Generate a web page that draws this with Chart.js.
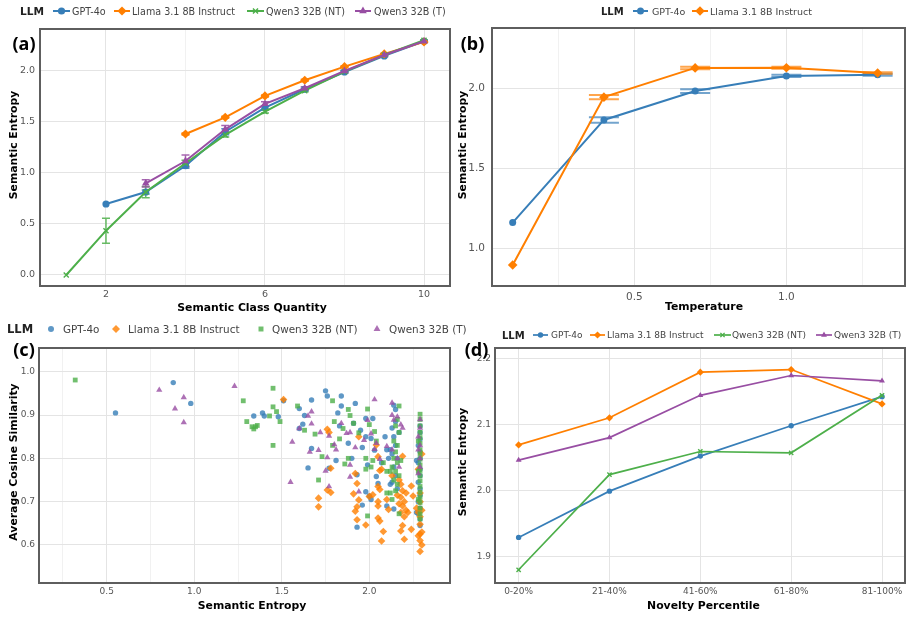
<!DOCTYPE html>
<html><head><meta charset="utf-8">
<script src="https://cdn.jsdelivr.net/npm/chart.js@4.4.0/dist/chart.umd.min.js"></script>
<style>
html,body{margin:0;padding:0;background:#fff;}
#wrap{position:relative;width:914px;height:619px;overflow:hidden;background:#fff;}
#wrap canvas{position:absolute;left:0;top:0;}
.t{position:absolute;white-space:nowrap;line-height:1;}
</style></head>
<body><div id="wrap">
<canvas id="ca" width="914" height="619"></canvas>
<canvas id="cb" width="914" height="619"></canvas>
<canvas id="cc" width="914" height="619"></canvas>
<canvas id="cd" width="914" height="619"></canvas>
</div>
<script>
// ---------------- DATA ----------------
const seriesNames = ['GPT-4o','Llama 3.1 8B Instruct','Qwen3 32B (NT)','Qwen3 32B (T)'];
const legendTitle = 'LLM';

// (a) Semantic Entropy vs Semantic Class Quantity
const classQuantity = [1,2,3,4,5,6,7,8,9,10];
const aGPT    = [null,0.694,0.811,1.068,1.400,1.635,1.815,1.984,2.141,2.284];
const aLlama  = [null,null,null,1.378,1.541,1.750,1.903,2.036,2.160,2.278];
const aQwenNT = [0.000,0.433,0.811,1.092,1.369,1.597,1.802,1.987,2.150,2.294];
const aQwenT  = [null,null,0.896,1.114,1.424,1.672,1.825,1.994,2.150,2.284];
const aErrGPT    = [0,0,0.02,0.025,0.03,0.015,0.01,0.01,0.008,0.005];
const aErrLlama  = [0,0,0,0.01,0.01,0.01,0.01,0.008,0.006,0.005];
const aErrQwenNT = [0,0.122,0.055,0.03,0.02,0.015,0.012,0.01,0.008,0.005];
const aErrQwenT  = [0,0,0.035,0.058,0.037,0.02,0.015,0.01,0.008,0.005];
const aXMajor = [2,6,10], aXMinor = [4,8];
const aYMajor = [0,0.5,1.0,1.5,2.0];

// (b) Semantic Entropy vs Temperature
const temperature = [0.1,0.4,0.7,1.0,1.3];
const bGPT   = [1.161,1.804,1.985,2.080,2.087];
const bLlama = [0.896,1.947,2.130,2.131,2.098];
const bErrGPT   = [0,0.017,0.012,0.007,0.006];
const bErrLlama = [0,0.013,0.008,0.006,0.005];
const bXMajor = [0.5,1.0], bXMinor = [0.25,0.75,1.25];
const bYMajor = [1.0,1.5,2.0];

// (c) Average Cosine Similarity vs Semantic Entropy  [entropy, similarity]
const cGPT = [[0.55,0.905],[0.88,0.975],[0.98,0.927],[1.34,0.898],[1.39,0.905],[1.40,0.898],[1.48,0.896],[1.51,0.933],[1.60,0.915],[1.60,0.869],[1.62,0.879],[1.63,0.899],[1.67,0.935],[1.65,0.778],[1.67,0.823],[1.75,0.956],[1.76,0.944],[1.77,0.777],[1.81,0.795],[1.82,0.905],[1.84,0.944],[1.84,0.921],[1.83,0.875],[1.90,0.800],[1.92,0.927],[1.91,0.881],[1.88,0.835],[1.93,0.762],[1.93,0.641],[1.96,0.692],[1.96,0.825],[1.95,0.865],[1.98,0.892],[1.98,0.850],[1.99,0.785],[1.98,0.723],[2.00,0.713],[2.01,0.705],[2.02,0.892],[2.01,0.846],[2.03,0.819],[2.04,0.758],[2.05,0.742],[2.07,0.790],[2.10,0.820],[2.09,0.850],[2.10,0.690],[2.12,0.740],[2.14,0.923],[2.15,0.913],[2.13,0.870],[2.14,0.850],[2.15,0.830],[2.13,0.810],[2.16,0.800],[2.14,0.780],[2.15,0.760],[2.13,0.745],[2.16,0.730],[2.14,0.683],[2.12,0.820],[2.17,0.860],[2.15,0.885],[2.11,0.800],[2.29,0.875],[2.29,0.860],[2.29,0.845],[2.28,0.830],[2.29,0.815],[2.29,0.800],[2.28,0.790],[2.29,0.775],[2.29,0.760],[2.28,0.745],[2.29,0.730],[2.29,0.715],[2.28,0.700],[2.29,0.685],[2.28,0.672],[2.29,0.660],[2.29,0.645],[2.27,0.795],[2.27,0.675]];
const cLlama = [[1.51,0.936],[1.76,0.867],[1.77,0.860],[1.78,0.777],[1.71,0.708],[1.71,0.688],[1.76,0.727],[1.78,0.721],[1.94,0.850],[1.92,0.765],[1.93,0.742],[1.91,0.718],[1.94,0.704],[1.93,0.688],[1.92,0.678],[1.93,0.658],[1.98,0.646],[2.00,0.712],[2.02,0.716],[2.04,0.831],[2.05,0.804],[2.06,0.772],[2.07,0.775],[2.05,0.735],[2.06,0.728],[2.05,0.700],[2.05,0.690],[2.05,0.662],[2.06,0.655],[2.08,0.631],[2.07,0.609],[2.11,0.682],[2.10,0.705],[2.13,0.760],[2.19,0.805],[2.17,0.750],[2.18,0.740],[2.19,0.725],[2.18,0.710],[2.20,0.700],[2.19,0.690],[2.18,0.675],[2.20,0.665],[2.19,0.645],[2.18,0.632],[2.20,0.613],[2.21,0.720],[2.21,0.680],[2.16,0.715],[2.17,0.695],[2.24,0.736],[2.25,0.713],[2.27,0.685],[2.28,0.675],[2.24,0.636],[2.28,0.621],[2.22,0.675],[2.29,0.720],[2.29,0.700],[2.30,0.680],[2.29,0.665],[2.29,0.648],[2.30,0.630],[2.29,0.625],[2.29,0.610],[2.30,0.600],[2.29,0.585],[2.30,0.810],[2.28,0.775]];
const cQwenNT = [[0.32,0.981],[1.28,0.933],[1.30,0.885],[1.33,0.873],[1.35,0.873],[1.36,0.876],[1.34,0.868],[1.43,0.898],[1.45,0.962],[1.45,0.919],[1.47,0.908],[1.49,0.885],[1.45,0.830],[1.59,0.921],[1.63,0.865],[1.69,0.856],[1.73,0.804],[1.71,0.750],[1.79,0.933],[1.80,0.885],[1.79,0.830],[1.85,0.869],[1.88,0.913],[1.89,0.899],[1.83,0.845],[1.86,0.787],[1.88,0.800],[1.91,0.881],[1.94,0.859],[1.99,0.914],[2.00,0.878],[1.98,0.800],[1.98,0.775],[2.01,0.780],[1.99,0.667],[2.03,0.862],[2.02,0.795],[2.04,0.840],[2.08,0.790],[2.10,0.720],[2.10,0.770],[2.17,0.921],[2.16,0.890],[2.15,0.875],[2.17,0.860],[2.14,0.840],[2.16,0.830],[2.15,0.815],[2.14,0.800],[2.16,0.790],[2.13,0.780],[2.15,0.770],[2.17,0.760],[2.14,0.750],[2.16,0.740],[2.12,0.720],[2.15,0.725],[2.13,0.705],[2.17,0.672],[2.18,0.795],[2.12,0.770],[2.29,0.902],[2.29,0.890],[2.29,0.875],[2.29,0.860],[2.29,0.848],[2.29,0.835],[2.29,0.820],[2.29,0.810],[2.29,0.798],[2.29,0.785],[2.29,0.772],[2.29,0.760],[2.29,0.748],[2.29,0.735],[2.29,0.722],[2.29,0.710],[2.29,0.698],[2.29,0.685],[2.29,0.672],[2.29,0.660],[2.28,0.840],[2.28,0.770],[2.28,0.705]];
const cQwenT = [[0.80,0.958],[0.89,0.915],[0.94,0.941],[0.94,0.883],[1.23,0.967],[1.56,0.838],[1.55,0.745],[1.60,0.869],[1.65,0.898],[1.67,0.908],[1.66,0.815],[1.67,0.880],[1.71,0.819],[1.72,0.860],[1.75,0.771],[1.76,0.802],[1.77,0.735],[1.77,0.852],[1.80,0.832],[1.81,0.820],[1.84,0.881],[1.87,0.858],[1.89,0.860],[1.89,0.785],[1.89,0.757],[1.92,0.825],[1.94,0.723],[1.97,0.842],[1.99,0.888],[2.01,0.857],[2.03,0.821],[2.04,0.835],[2.03,0.936],[2.06,0.798],[2.13,0.928],[2.13,0.900],[2.16,0.896],[2.14,0.889],[2.18,0.878],[2.19,0.870],[2.13,0.820],[2.16,0.800],[2.10,0.828],[2.17,0.780],[2.29,0.890],[2.29,0.870],[2.28,0.850],[2.29,0.830],[2.28,0.820],[2.29,0.800],[2.29,0.780],[2.28,0.765]];
const cXMajor = [0.5,1.0,1.5,2.0], cXMinor = [0.25,0.75,1.25,1.75,2.25];
const cYMajor = [0.6,0.7,0.8,0.9,1.0];

// (d) Semantic Entropy vs Novelty Percentile
const noveltyBins = ['0-20%','21-40%','41-60%','61-80%','81-100%'];
const dGPT    = [1.929,1.999,2.052,2.098,2.142];
const dLlama  = [2.069,2.110,2.179,2.183,2.131];
const dQwenNT = [1.880,2.024,2.059,2.057,2.144];
const dQwenT  = [2.046,2.080,2.144,2.174,2.166];
const dYMajor = [1.9,2.0,2.1,2.2];

// ---------------- STYLE ----------------
const W = 914, H = 619;
const COLORS = ['#377eb8','#ff7f00','#4daf4a','#984ea3'];
const ALPHA = ['rgba(55,126,184,0.8)','rgba(255,127,0,0.8)','rgba(77,175,74,0.8)','rgba(152,78,163,0.8)'];
const LINE_STYLES = ['circle','rectRot','crossRot','triangle'];
const SCAT_STYLES = ['circle','rectRot','rect','triangle'];
const MAJOR_C = '#e4e4e4', MINOR_C = '#f1f1f1', TICK_C = '#555';
const FONT = 'DejaVu Sans';

const errPlugin = {
  id: 'errbars',
  beforeDatasetsDraw(chart) {
    const ctx = chart.ctx, xs = chart.scales.x, ys = chart.scales.y;
    chart.data.datasets.forEach(ds => {
      if (!ds.err) return;
      ctx.save();
      ctx.strokeStyle = ds.borderColor; ctx.lineWidth = ds.errWidth; ctx.globalAlpha = ds.errAlpha;
      ds.data.forEach((p, j) => {
        const e = ds.err[j]; if (!e) return;
        const x = xs.getPixelForValue(p.x);
        const y1 = ys.getPixelForValue(p.y - e), y2 = ys.getPixelForValue(p.y + e);
        const w = ds.errCap;
        ctx.beginPath();
        ctx.moveTo(x, y1); ctx.lineTo(x, y2);
        ctx.moveTo(x - w, y1); ctx.lineTo(x + w, y1);
        ctx.moveTo(x - w, y2); ctx.lineTo(x + w, y2);
        ctx.stroke();
      });
      ctx.restore();
    });
  }
};
const boxPlugin = {
  id: 'box',
  afterDraw(chart) {
    const {ctx, chartArea: a} = chart;
    ctx.save(); ctx.strokeStyle = '#5e5e5e'; ctx.lineWidth = 2;
    ctx.strokeRect(a.left, a.top, a.right - a.left, a.bottom - a.top);
    ctx.restore();
  }
};

function axis(o, isX) {
  const all = o.major.concat(o.minor || []).sort((p, q) => p - q);
  return {
    type: 'linear', min: o.min, max: o.max,
    afterBuildTicks: s => { s.ticks = all.map(v => ({value: v})); },
    afterFit: s => { if (isX) s.height = 22; else s.width = 30; },
    grid: {drawTicks: false, lineWidth: 1, color: c => (o.major.includes(c.tick.value) ? MAJOR_C : MINOR_C)},
    border: {display: false},
    ticks: {padding: o.pad, autoSkip: false, maxRotation: 0, minRotation: 0, color: TICK_C,
      font: {family: FONT, size: o.fs},
      callback: v => (o.major.includes(v) ? o.fmt(v) : '')}
  };
}

function makeChart(id, area, xo, yo, datasets) {
  return new Chart(document.getElementById(id), {
    type: 'line',
    data: {datasets},
    options: {
      responsive: false, animation: false, devicePixelRatio: 1, events: [],
      layout: {padding: {left: area[0] - 30, top: area[1], right: W - area[2], bottom: H - area[3] - 22}},
      plugins: {legend: {display: false}, tooltip: {enabled: false}},
      scales: {x: axis(xo, true), y: axis(yo, false)}
    },
    plugins: [errPlugin, boxPlugin]
  });
}

function lineSet(i, xs, ys, errs, o) {
  const data = [], err = [];
  xs.forEach((x, k) => { if (ys[k] !== null) { data.push({x, y: ys[k]}); err.push(errs ? errs[k] : 0); } });
  return {
    label: seriesNames[i], data, err, order: 4 - i,
    borderColor: COLORS[i], backgroundColor: COLORS[i], borderWidth: o.lw,
    pointStyle: LINE_STYLES[i], pointRadius: o.r[i], pointBackgroundColor: COLORS[i],
    pointBorderColor: COLORS[i], pointBorderWidth: LINE_STYLES[i] === 'crossRot' ? 1.4 : 0,
    errCap: o.cap, errWidth: o.ew, errAlpha: o.ea, tension: 0
  };
}

const f1 = v => v.toFixed(1), f0 = v => String(Math.round(v));

// (a)
makeChart('ca', [40, 29, 450, 286],
  {min: 0.34, max: 10.654, major: aXMajor, minor: aXMinor, fmt: f0, pad: 3, fs: 9.5},
  {min: -0.1075, max: 2.404, major: aYMajor, fmt: f1, pad: 5, fs: 9.5},
  [aGPT, aLlama, aQwenNT, aQwenT].map((ys, i) => lineSet(i, classQuantity, ys,
    [aErrGPT, aErrLlama, aErrQwenNT, aErrQwenT][i],
    {lw: 2, r: [3.6, 4.6, 3.6, 4.4], cap: 4, ew: 1.5, ea: 0.85})));

// (b)
makeChart('cb', [492, 28, 905, 286],
  {min: 0.032, max: 1.39, major: bXMajor, minor: bXMinor, fmt: f1, pad: 5, fs: 10.5},
  {min: 0.764, max: 2.38, major: bYMajor, fmt: f1, pad: 7, fs: 10.5},
  [bGPT, bLlama].map((ys, i) => lineSet(i, temperature, ys, [bErrGPT, bErrLlama][i],
    {lw: 2, r: [3.5, 4.8], cap: 15, ew: 2, ea: 0.7})));

// (c)
makeChart('cc', [39, 348, 450, 583],
  {min: 0.113, max: 2.461, major: cXMajor, minor: cXMinor, fmt: f1, pad: 3, fs: 9},
  {min: 0.512, max: 1.055, major: cYMajor, fmt: f1, pad: 4, fs: 9},
  [cGPT, cLlama, cQwenNT, cQwenT].map((pts, i) => ({
    label: seriesNames[i], data: pts.map(p => ({x: p[0], y: p[1]})), showLine: false, order: 4 - i,
    pointStyle: SCAT_STYLES[i], pointRadius: [2.7, 3.8, 3.4, 3.6][i], pointBorderWidth: 0,
    pointBackgroundColor: ALPHA[i], backgroundColor: ALPHA[i], borderColor: ALPHA[i]
  })));

// (d)
makeChart('cd', [495, 348, 905, 583],
  {min: -0.26, max: 4.253, major: noveltyBins.map((_, k) => k), fmt: v => noveltyBins[v], pad: 3, fs: 9},
  {min: 1.86, max: 2.2156, major: dYMajor, fmt: f1, pad: 4, fs: 9},
  [dGPT, dLlama, dQwenNT, dQwenT].map((ys, i) => lineSet(i, noveltyBins.map((_, k) => k), ys, null,
    {lw: 1.7, r: [2.7, 3.6, 3.0, 3.4], cap: 0, ew: 0, ea: 0})));

// ---------------- TEXT (titles, labels, legends) ----------------
const wrap = document.getElementById('wrap');
function addText(txt, x, y, font, color, transform) {
  const d = document.createElement('div');
  d.className = 't'; d.textContent = txt;
  d.style.left = x + 'px'; d.style.top = y + 'px';
  d.style.font = font; d.style.color = color || '#000';
  d.style.transform = transform || 'translate(0,-50%)';
  wrap.appendChild(d);
}
const TITLE_FONT = 'bold 10.85px "DejaVu Sans"';
const CENTER = 'translate(-50%,-50%)', ROT = 'translate(-50%,-50%) rotate(-90deg)';
addText('Semantic Entropy', 12.5, 145, TITLE_FONT, '#000', ROT);
addText('Semantic Class Quantity', 252, 307, TITLE_FONT, '#000', CENTER);
addText('Semantic Entropy', 462, 145, TITLE_FONT, '#000', ROT);
addText('Temperature', 704, 306, TITLE_FONT, '#000', CENTER);
addText('Average Cosine Similarity', 13, 462, TITLE_FONT, '#000', ROT);
addText('Semantic Entropy', 252, 605, TITLE_FONT, '#000', CENTER);
addText('Semantic Entropy', 462, 462, TITLE_FONT, '#000', ROT);
addText('Novelty Percentile', 703.5, 605, TITLE_FONT, '#000', CENTER);

const PANEL_FONT = 'bold 18px "Noto Sans"';
addText('(a)', 24, 42.5, PANEL_FONT, '#000', CENTER);
addText('(b)', 472.5, 42.5, PANEL_FONT, '#000', CENTER);
addText('(c)', 24, 349, PANEL_FONT, '#000', CENTER);
addText('(d)', 476.5, 349, PANEL_FONT, '#000', CENTER);

const SVGNS = 'http://www.w3.org/2000/svg';
function markerSvg(style, cx, cy, r, color, lw) {
  if (style === 'circle') return `<circle cx="${cx}" cy="${cy}" r="${r}" fill="${color}"/>`;
  if (style === 'rectRot') return `<polygon points="${cx},${cy - r} ${cx + r},${cy} ${cx},${cy + r} ${cx - r},${cy}" fill="${color}"/>`;
  if (style === 'rect') { const s = r * Math.SQRT1_2; return `<rect x="${cx - s}" y="${cy - s}" width="${2 * s}" height="${2 * s}" fill="${color}"/>`; }
  if (style === 'triangle') {
    const e = 3 * r / Math.sqrt(3), h = e * Math.sqrt(3) / 2;
    return `<polygon points="${cx - e / 2},${cy + h / 3} ${cx + e / 2},${cy + h / 3} ${cx},${cy - 2 * h / 3}" fill="${color}"/>`;
  }
  if (style === 'crossRot') { const d = r * Math.SQRT1_2;
    return `<path d="M${cx - d},${cy - d}L${cx + d},${cy + d}M${cx + d},${cy - d}L${cx - d},${cy + d}" stroke="${color}" stroke-width="1.4"/>`; }
  return '';
}
function legend(cfg) {
  addText(legendTitle, cfg.titleX, cfg.y, `bold ${cfg.tfs}px "DejaVu Sans"`, '#222');
  cfg.items.forEach((it, i) => {
    const [x1, x2, tx] = it;
    const svg = document.createElementNS(SVGNS, 'svg');
    svg.setAttribute('width', W); svg.setAttribute('height', 24);
    svg.style.position = 'absolute'; svg.style.left = '0px'; svg.style.top = (cfg.y - 12) + 'px';
    svg.style.overflow = 'visible';
    const cx = (x1 + x2) / 2;
    let inner = '';
    if (cfg.line) inner += `<line x1="${x1}" y1="12" x2="${x2}" y2="12" stroke="${COLORS[i]}" stroke-width="${cfg.lw}"/>`;
    inner += markerSvg(cfg.styles[i], cx, 12, cfg.r[i], cfg.colors[i]);
    svg.innerHTML = inner;
    wrap.appendChild(svg);
    addText(seriesNames[i], tx, cfg.y, `${cfg.fs}px "DejaVu Sans"`, '#444');
  });
}
legend({y: 11, fs: 9.6, tfs: 10.6, titleX: 20, line: true, lw: 2, styles: LINE_STYLES, colors: COLORS,
  items: [[53, 70, 72], [114, 130, 132], [247, 264, 266], [355, 371, 374]], r: [3.6, 4.6, 3.6, 4.4]});
legend({y: 11, fs: 9.5, tfs: 10, titleX: 601, line: true, lw: 2, styles: LINE_STYLES, colors: COLORS,
  items: [[633, 648, 652], [692, 708, 710]], r: [3.5, 4.8]});
legend({y: 329, fs: 10.4, tfs: 11.5, titleX: 7, line: false, styles: SCAT_STYLES, colors: ALPHA,
  items: [[51, 51, 63], [116, 116, 128], [261, 261, 272], [377, 377, 389]], r: [3, 4, 3.5, 4]});
legend({y: 335, fs: 9, tfs: 10, titleX: 502, line: true, lw: 1.7, styles: LINE_STYLES, colors: COLORS,
  items: [[533, 548, 551], [590, 605, 607], [714, 731, 732], [816, 832, 834]], r: [2.7, 3.6, 3.0, 3.4]});
</script>
</body></html>
